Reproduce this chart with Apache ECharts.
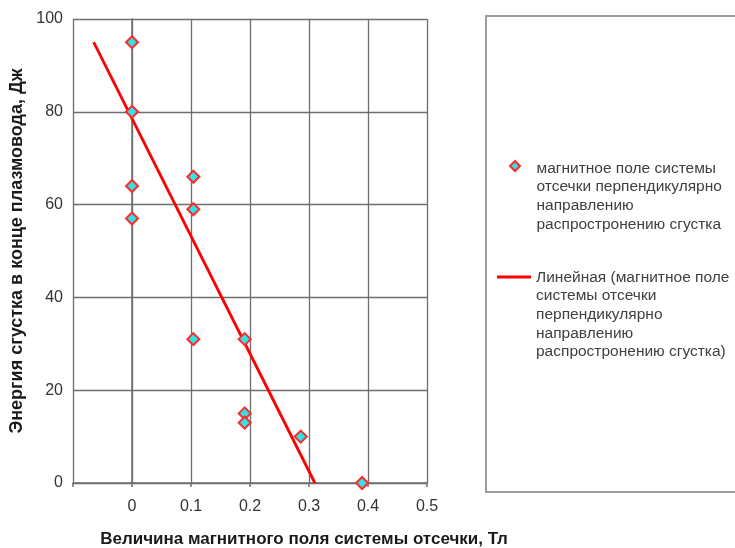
<!DOCTYPE html>
<html>
<head>
<meta charset="utf-8">
<script src="https://cdn.jsdelivr.net/npm/echarts@6/dist/echarts.min.js"></script>
<style>
html,body{margin:0;padding:0;background:#fff;}
#chart{width:735px;height:548px;}
</style>
</head>
<body>
<div id="chart"></div>
<script>
// Data
var fieldT = [0, 0, 0, 0, 0.104, 0.104, 0.104, 0.191, 0.191, 0.191, 0.286, 0.39];
var energyJ = [95, 80, 64, 57, 66, 59, 31, 31, 15, 13, 10, 0];
var trendX = [-0.065, 0.31];
var trendY = [95, 0];
var xTicks = [-0.1, 0, 0.1, 0.2, 0.3, 0.4, 0.5];
var yTicks = [0, 20, 40, 60, 80, 100];

var scatterName = 'магнитное поле системы\nотсечки перпендикулярно\nнаправлению\nраспростронению сгустка';
var trendName = 'Линейная (магнитное поле\nсистемы отсечки\nперпендикулярно\nнаправлению\nраспростронению сгустка)';

var chart = echarts.init(document.getElementById('chart'), null, {renderer: 'canvas'});
var font = 'Liberation Sans, Arial, sans-serif';

var pts = fieldT.map(function (x, i) { return [x, energyJ[i]]; });
var trendPts = trendX.map(function (x, i) { return [x, trendY[i]]; });

// legend icons: the mark sits at the top of a tall box so it lines up with the first text line
var diamondIcon = 'path://M5,0 M5,2 L10,7 L5,12 L0,7 Z M5,75';
var lineIcon = 'path://M0,0 M0,7.5 L34,7.5 L34,10.5 L0,10.5 Z M0,93.5';

var legendText = {fontFamily: font, fontSize: 15.5, color: '#404040', lineHeight: 18.7};

var option = {
  backgroundColor: '#ffffff',
  animation: false,
  grid: {left: 73, top: 19, width: 354, height: 464, containLabel: false, outerBoundsMode: 'none'},
  xAxis: {
    type: 'value',
    min: xTicks[0], max: xTicks[xTicks.length - 1], interval: 0.1,
    name: 'Величина магнитного поля системы отсечки, Тл',
    nameLocation: 'middle', nameGap: 48,
    nameTextStyle: {fontFamily: font, fontSize: 17, fontWeight: 'bold', color: '#1a1a1a', padding: [0, 0, 0, 108]},
    axisLine: {show: true, lineStyle: {color: '#6e6e6e', width: 1.5}},
    axisTick: {show: true, length: 4, lineStyle: {color: '#6e6e6e', width: 1.5}},
    axisLabel: {
      fontFamily: font, fontSize: 16, color: '#333', margin: 16,
      formatter: function (v) { return v < -0.05 ? '' : String(+v.toFixed(1)); }
    },
    splitLine: {show: true, lineStyle: {color: '#6e6e6e', width: 1.3}}
  },
  yAxis: {
    type: 'value',
    min: yTicks[0], max: yTicks[yTicks.length - 1], interval: 20,
    name: 'Энергия сгустка в конце плазмовода, Дж',
    nameLocation: 'middle', nameGap: 47,
    nameTextStyle: {fontFamily: font, fontSize: 18, fontWeight: 'bold', color: '#1a1a1a'},
    axisLine: {show: true, lineStyle: {color: '#6e6e6e', width: 1.5}},
    axisTick: {show: false},
    axisLabel: {fontFamily: font, fontSize: 16, color: '#333', margin: 10},
    splitLine: {show: true, lineStyle: {color: '#6e6e6e', width: 1.3}}
  },
  legend: [
    {
      data: [{name: scatterName, icon: diamondIcon}], left: 509, top: 158, padding: 0,
      itemWidth: 33, itemHeight: 75, selectedMode: false,
      itemStyle: {borderColor: '#ff2a2a', borderWidth: 2},
      textStyle: legendText
    },
    {
      data: [{name: trendName, icon: lineIcon}], left: 497, top: 268, padding: 0,
      itemWidth: 34, itemHeight: 93.5, selectedMode: false,
      itemStyle: {borderWidth: 0, color: '#ff0000'},
      textStyle: legendText
    }
  ],
  graphic: [{
    type: 'rect', silent: true, z: -1,
    shape: {x: 486, y: 16, width: 262, height: 476},
    style: {fill: '#fff', stroke: '#9c9c9c', lineWidth: 2}
  }],
  series: [
    {
      name: trendName, type: 'line', data: trendPts,
      symbol: 'none', lineStyle: {color: '#ff0000', width: 2.8}, itemStyle: {color: '#ff0000'}, z: 2
    },
    {
      name: scatterName, type: 'scatter', data: pts,
      symbol: 'diamond', symbolSize: 12,
      itemStyle: {color: '#2fe3e6', borderColor: '#ff2a2a', borderWidth: 2, opacity: 1}, z: 3
    }
  ]
};
chart.setOption(option);
</script>
</body>
</html>
